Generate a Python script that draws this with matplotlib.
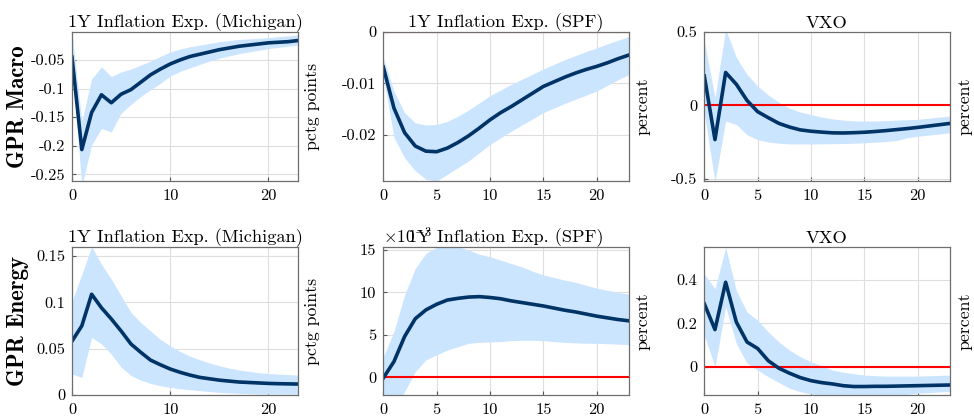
"""
Impulse responses to GPR shocks: inflation expectations and VXO.
Median response with an error band, one row per shock.
"""

import matplotlib
matplotlib.use('Agg')
import matplotlib.pyplot as plt
from matplotlib.ticker import FuncFormatter

plt.rcParams['font.family'] = 'serif'
plt.rcParams['font.serif'] = ['cmr10']
plt.rcParams['mathtext.fontset'] = 'cm'
plt.rcParams['axes.unicode_minus'] = False

horizontes = list(range(24))

# --- GPR Macro ---
mich_macro_med = [-0.045, -0.207, -0.142, -0.111, -0.125, -0.110, -0.102, -0.089, -0.076, -0.066,
                  -0.057, -0.050, -0.044, -0.040, -0.036, -0.032, -0.029, -0.026, -0.024, -0.022,
                  -0.020, -0.019, -0.018, -0.016]
mich_macro_sup = [-0.002, -0.157, -0.083, -0.062, -0.079, -0.071, -0.066, -0.059, -0.052, -0.044,
                  -0.036, -0.031, -0.027, -0.024, -0.021, -0.018, -0.016, -0.014, -0.013, -0.012,
                  -0.011, -0.009, -0.008, -0.006]
mich_macro_inf = [-0.060, -0.270, -0.199, -0.170, -0.176, -0.143, -0.128, -0.114, -0.102, -0.091,
                  -0.078, -0.070, -0.064, -0.058, -0.052, -0.047, -0.043, -0.039, -0.036, -0.033,
                  -0.030, -0.028, -0.026, -0.024]

spf_macro_med = [-0.0068, -0.0148, -0.0196, -0.0222, -0.0232, -0.0233, -0.0226, -0.0215, -0.0202,
                 -0.0187, -0.0171, -0.0157, -0.0145, -0.0132, -0.0119, -0.0106, -0.0097, -0.0088,
                 -0.0080, -0.0073, -0.0067, -0.0060, -0.0052, -0.0045]
spf_macro_sup = [-0.0050, -0.0115, -0.0157, -0.0177, -0.0181, -0.0180, -0.0174, -0.0164, -0.0152,
                 -0.0138, -0.0124, -0.0113, -0.0102, -0.0092, -0.0082, -0.0072, -0.0063, -0.0054,
                 -0.0046, -0.0038, -0.0031, -0.0023, -0.0016, -0.0009]
spf_macro_inf = [-0.0085, -0.0205, -0.0245, -0.0270, -0.0287, -0.0290, -0.0277, -0.0264, -0.0251,
                 -0.0235, -0.0219, -0.0206, -0.0193, -0.0181, -0.0169, -0.0157, -0.0148, -0.0139,
                 -0.0131, -0.0123, -0.0115, -0.0104, -0.0093, -0.0083]

vxo_macro_med = [0.200, -0.233, 0.224, 0.144, 0.034, -0.043, -0.084, -0.123, -0.148, -0.167,
                 -0.176, -0.182, -0.187, -0.188, -0.186, -0.183, -0.178, -0.172, -0.165, -0.158,
                 -0.150, -0.141, -0.132, -0.123]
vxo_macro_sup = [0.440, 0.053, 0.520, 0.327, 0.212, 0.132, 0.070, 0.020, -0.020, -0.045,
                 -0.062, -0.080, -0.092, -0.100, -0.105, -0.107, -0.106, -0.104, -0.101, -0.098,
                 -0.095, -0.087, -0.080, -0.073]
vxo_macro_inf = [-0.050, -0.520, -0.107, -0.130, -0.200, -0.233, -0.250, -0.258, -0.262, -0.263,
                 -0.263, -0.262, -0.261, -0.260, -0.258, -0.255, -0.251, -0.246, -0.240, -0.220,
                 -0.210, -0.203, -0.195, -0.187]

# --- GPR Energy ---
mich_energia_med = [0.058, 0.0745, 0.1086, 0.094, 0.082, 0.069, 0.055, 0.046, 0.0376, 0.0326,
                    0.028, 0.0245, 0.0215, 0.019, 0.0175, 0.016, 0.015, 0.014, 0.0135, 0.013,
                    0.0125, 0.0122, 0.012, 0.0118]
mich_energia_sup = [0.101, 0.130, 0.160, 0.141, 0.125, 0.107, 0.089, 0.078, 0.069, 0.060,
                    0.053, 0.047, 0.042, 0.038, 0.0345, 0.0315, 0.029, 0.027, 0.0255, 0.024,
                    0.0232, 0.0225, 0.022, 0.0215]
mich_energia_inf = [0.0226, 0.019, 0.062, 0.055, 0.044, 0.030, 0.021, 0.016, 0.0125, 0.010,
                    0.0082, 0.0068, 0.0057, 0.0047, 0.0037, 0.0028, 0.0023, 0.0018, 0.0015, 0.0012,
                    0.001, 0.001, 0.001, 0.001]

# SPF energy values in units of 1e-3
spf_energia_med = [-0.1, 1.84, 4.8, 6.9, 7.94, 8.6, 9.1, 9.3, 9.45, 9.5, 9.4, 9.25, 9.0, 8.8,
                   8.6, 8.4, 8.15, 7.9, 7.7, 7.45, 7.2, 7.0, 6.8, 6.65]
spf_energia_sup = [2.4, 5.4, 9.7, 12.85, 14.6, 15.3, 15.5, 15.4, 15.0, 14.5, 14.2, 13.8, 13.4,
                   13.0, 12.5, 12.06, 11.75, 11.45, 11.2, 10.85, 10.5, 10.25, 10.0, 9.8]
spf_energia_inf = [-2.5, -4.0, -1.7, 0.66, 2.04, 2.63, 3.2, 3.6, 4.0, 4.1, 4.15, 4.2, 4.3, 4.35,
                   4.35, 4.3, 4.2, 4.1, 4.05, 4.0, 4.0, 3.95, 3.9, 3.85]

vxo_energia_med = [0.290, 0.171, 0.389, 0.206, 0.114, 0.084, 0.0275, -0.007, -0.030, -0.050,
                   -0.064, -0.073, -0.079, -0.087, -0.091, -0.091, -0.090, -0.090, -0.089, -0.088,
                   -0.087, -0.086, -0.085, -0.084]
vxo_energia_sup = [0.427, 0.359, 0.550, 0.351, 0.252, 0.214, 0.160, 0.114, 0.076, 0.046,
                   0.023, 0.005, -0.015, -0.025, -0.032, -0.038, -0.041, -0.043, -0.043, -0.043,
                   -0.043, -0.041, -0.040, -0.038]
vxo_energia_inf = [0.145, 0.000, 0.275, 0.107, 0.016, -0.015, -0.046, -0.073, -0.099, -0.115,
                   -0.125, -0.130, -0.133, -0.135, -0.135, -0.135, -0.134, -0.132, -0.130, -0.127,
                   -0.122, -0.119, -0.116, -0.114]

titulos = ['1Y Inflation Exp. (Michigan)', '1Y Inflation Exp. (SPF)', 'VXO']
unidades = ['pctg points', 'percent', 'percent']
filas = ['GPR Macro', 'GPR Energy']

COLOR_BANDA = '#cce5ff'
COLOR_LINEA = '#003366'


def graficar_panel(ax, med, sup, inf, titulo, unidad, ylim, yticks, xticks,
                   escala=1.0, linea_cero=True):
    h = horizontes
    ax.fill_between(h, [v * escala for v in inf], [v * escala for v in sup],
                    color=COLOR_BANDA, linewidth=0, zorder=1)
    if linea_cero:
        ax.axhline(0, color='red', linewidth=1.5, zorder=2)
    ax.plot(h, [v * escala for v in med], color=COLOR_LINEA, linewidth=2.6, zorder=3)
    ax.set_xlim(0, 23)
    ax.set_ylim(ylim)
    ax.set_xticks(xticks)
    ax.set_yticks(yticks)
    if escala != 1.0:
        ax.yaxis.set_major_formatter(FuncFormatter(lambda v, p: f'{v / escala:g}'))
    else:
        ax.yaxis.set_major_formatter(FuncFormatter(lambda v, p: f'{v:g}'))
    ax.grid(True, color='#dedede', linewidth=0.8, zorder=0)
    ax.set_axisbelow(True)
    ax.tick_params(direction='in', length=3, labelsize=11.8, color='#555555')
    ax.tick_params(axis='x', pad=6)
    ax.tick_params(axis='y', pad=5)
    for s in ax.spines.values():
        s.set_color('#6e6e6e')
        s.set_linewidth(0.9)
        s.set_zorder(4)
    ax.set_title(titulo, fontsize=13.2, pad=3)
    ax.yaxis.set_label_position('right')
    ax.set_ylabel(unidad, fontsize=12.8, labelpad=5)


fig = plt.figure(figsize=(9.74, 4.18), dpi=100)

izq = [0.0739, 0.3935, 0.7231]
anchos = [0.232, 0.252, 0.252]
abajo = [0.567, 0.055]
altos = [0.3565, 0.353]

ejes = [[fig.add_axes([izq[c], abajo[r], anchos[c], altos[r]]) for c in range(3)] for r in range(2)]

x_mich = [0, 10, 20]
x_otros = [0, 5, 10, 15, 20]

graficar_panel(ejes[0][0], mich_macro_med, mich_macro_sup, mich_macro_inf, titulos[0], unidades[0],
               (-0.262, -0.001), [-0.25, -0.2, -0.15, -0.1, -0.05], x_mich, linea_cero=False)
graficar_panel(ejes[0][1], spf_macro_med, spf_macro_sup, spf_macro_inf, titulos[1], unidades[1],
               (-0.029, 0), [-0.02, -0.01, 0], x_otros)
graficar_panel(ejes[0][2], vxo_macro_med, vxo_macro_sup, vxo_macro_inf, titulos[2], unidades[2],
               (-0.515, 0.5), [-0.5, 0, 0.5], x_otros)

graficar_panel(ejes[1][0], mich_energia_med, mich_energia_sup, mich_energia_inf, titulos[0], unidades[0],
               (0, 0.159), [0, 0.05, 0.1, 0.15], x_mich, linea_cero=False)
graficar_panel(ejes[1][1], spf_energia_med, spf_energia_sup, spf_energia_inf, titulos[1], unidades[1],
               (-2.1e-3, 15.3e-3), [0, 5e-3, 10e-3, 15e-3], x_otros, escala=1e-3)
graficar_panel(ejes[1][2], vxo_energia_med, vxo_energia_sup, vxo_energia_inf, titulos[2], unidades[2],
               (-0.13, 0.549), [0, 0.2, 0.4], x_otros)

# exponent label, MATLAB style, sitting over the title
ejes[1][1].text(0.0, 1.01, r'$\times 10^{-3}$', transform=ejes[1][1].transAxes,
                fontsize=12.5, ha='left', va='bottom')

for r, nombre in enumerate(filas):
    fig.text(0.018, abajo[r] + altos[r] / 2, nombre, rotation=90, ha='center', va='center',
             fontsize=16.5, family='cmb10')

plt.savefig('out.png', dpi=100)
plt.close()
